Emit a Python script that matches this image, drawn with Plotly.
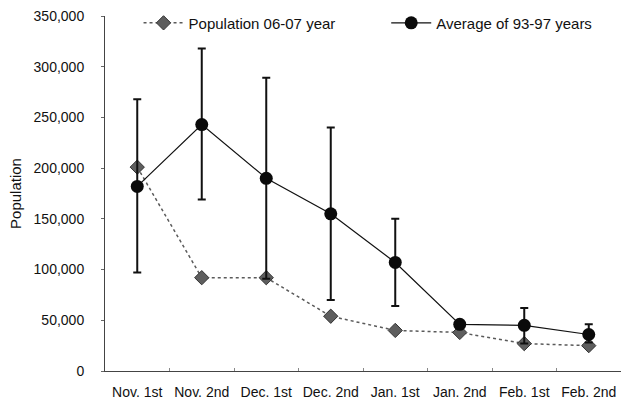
import plotly.graph_objects as go

categories = ["Nov. 1st", "Nov. 2nd", "Dec. 1st", "Dec. 2nd", "Jan. 1st", "Jan. 2nd", "Feb. 1st", "Feb. 2nd"]
pop_0607 = [201000, 92000, 92000, 54000, 40000, 38000, 27000, 25000]
avg_9397 = [182000, 243000, 190000, 155000, 107000, 46000, 45000, 36000]
avg_upper = [268000, 318000, 289000, 240000, 150000, 47000, 62000, 46000]
avg_lower = [97000, 169000, 91000, 70000, 64000, 45000, 27000, 28000]
y_ticks = [0, 50000, 100000, 150000, 200000, 250000, 300000, 350000]

err_plus = [u - a for u, a in zip(avg_upper, avg_9397)]
err_minus = [a - l for a, l in zip(avg_9397, avg_lower)]

FONT = "Liberation Sans, Arial, sans-serif"

fig = go.Figure()
fig.add_trace(go.Scatter(
    x=categories, y=pop_0607, name="Population 06-07 year",
    mode="lines+markers",
    line=dict(color="#5a5a5a", width=1.5, dash="dot"),
    marker=dict(symbol="diamond", size=11, color="#5e5e5e", line=dict(color="#333333", width=1)),
    legend="legend",
))
fig.add_trace(go.Scatter(
    x=categories, y=avg_9397, name="Average of 93-97 years",
    mode="lines+markers",
    line=dict(color="#111111", width=1.2),
    marker=dict(symbol="circle", size=13, color="#0a0a0a"),
    error_y=dict(type="data", array=err_plus, arrayminus=err_minus,
                 color="#111111", thickness=2, width=4),
    legend="legend2",
))

legend_common = dict(orientation="h", xanchor="left", y=0.98, yanchor="middle",
                     bgcolor="rgba(0,0,0,0)", font=dict(size=15), itemwidth=40)

fig.update_layout(
    width=627, height=403,
    margin=dict(l=105, r=6, t=16, b=32),
    paper_bgcolor="white", plot_bgcolor="white",
    font=dict(family=FONT, size=14, color="#111111"),
    showlegend=True,
    legend=dict(x=0.065, **legend_common),
    legend2=dict(x=0.545, **legend_common),
    xaxis=dict(
        type="category", range=[-0.5, 7.5],
        showline=True, linecolor="#444444", linewidth=1,
        showgrid=False, ticks="inside", ticklen=3, tickcolor="#888888",
        tickson="boundaries", tickfont=dict(size=14), tickangle=0,
        ticklabelstandoff=8, automargin=False,
    ),
    yaxis=dict(
        range=[0, 350000], tickvals=y_ticks, tickformat=",d",
        showline=True, linecolor="#444444", linewidth=1,
        showgrid=False, zeroline=False, ticks="outside", ticklen=3, tickcolor="#666666",
        ticklabelstandoff=14, tickfont=dict(size=14), automargin=False,
        title=dict(text="Population", font=dict(size=15), standoff=8),
    ),
)

fig.write_html("out.html")
